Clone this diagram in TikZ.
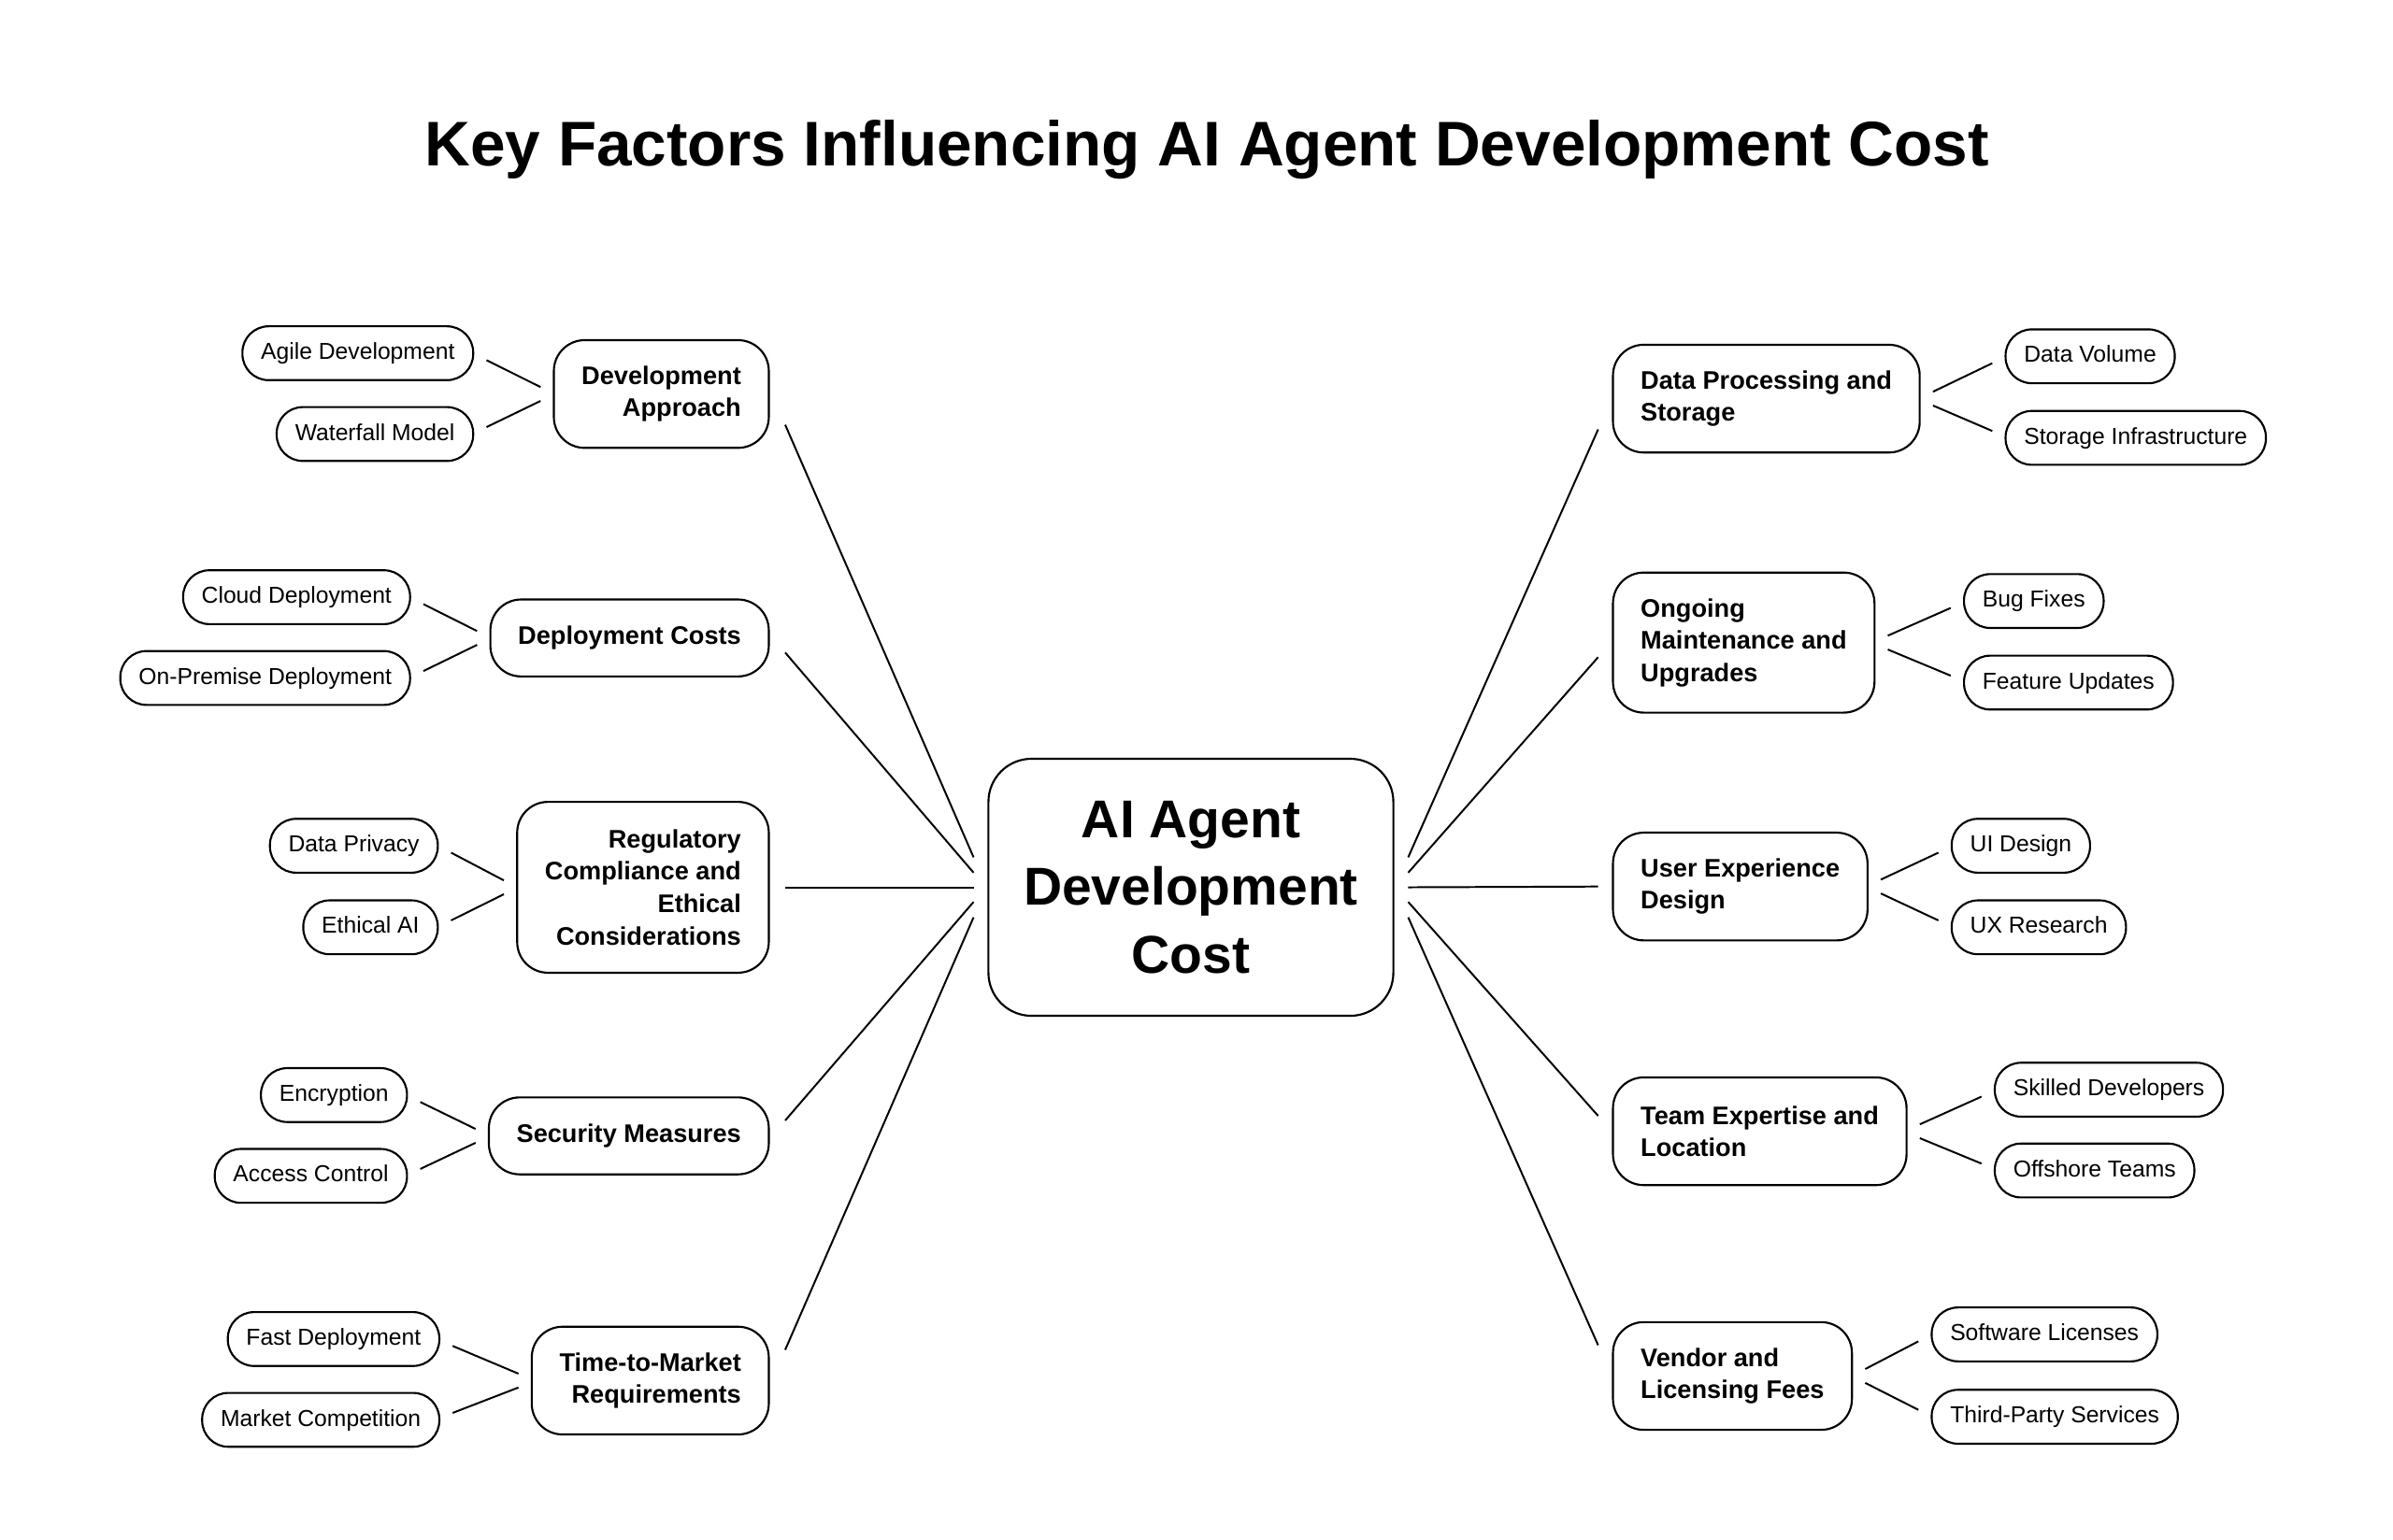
\documentclass[tikz,border=0pt]{standalone}
\usepackage{fontspec}
\setmainfont{Liberation Sans}
\begin{document}
\begin{tikzpicture}[x=1pt,y=-1pt,
  factor/.style={draw, line width=1.3pt, rounded corners=20pt, inner xsep=18pt, inner ysep=0pt,
    font=\fontsize{16.5}{21}\selectfont\bfseries},
  fl/.style={factor, anchor=east, align=right},
  fr/.style={factor, anchor=west, align=left},
  leaf/.style={draw, line width=1.3pt, rounded corners=17pt, inner xsep=12pt, inner ysep=0pt,
    minimum height=35pt, text height=11pt, text depth=3pt, font=\fontsize{15}{18}\selectfont},
  ll/.style={leaf, anchor=east},
  lr/.style={leaf, anchor=west},
  conn/.style={line width=1.2pt},
  h1/.style={minimum height=50pt}, h2/.style={minimum height=70pt},
  h3/.style={minimum height=91pt}, h4/.style={minimum height=111pt}]
\fill[white] (0,0) rectangle (1554.3,1000);
\useasboundingbox (0,0) rectangle (1554.3,1000);

\node[font=\fontsize{41}{49}\selectfont\bfseries] (title) at (784,97) {Key Factors Influencing AI Agent Development Cost};

\node[draw, line width=1.3pt, rounded corners=28pt, minimum width=263pt, minimum height=167pt, align=center,
  font=\fontsize{34.6}{44}\selectfont\bfseries] (ctr) at (773.5,576.5) {AI Agent\\Development\\Cost};

% left factors
\node[fl,h2] (devA) at (500,256) {Development\\Approach};
\node[fl,h1] (depC) at (500,414.5) {Deployment Costs};
\node[fl,h4] (reg) at (500,576.5) {Regulatory\\Compliance and\\Ethical\\Considerations};
\node[fl,h1] (sec) at (500,738) {Security Measures};
\node[fl,h2] (ttm) at (500,897) {Time-to-Market\\Requirements};

% right factors
\node[fr,h2] (dps) at (1047,259) {Data Processing and\\Storage};
\node[fr,h3] (oma) at (1047,417.5) {Ongoing\\Maintenance and\\Upgrades};
\node[fr,h2] (uxd) at (1047,576) {User Experience\\Design};
\node[fr,h2] (tel) at (1047,735) {Team Expertise and\\Location};
\node[fr,h2] (vlf) at (1047,894) {Vendor and\\Licensing Fees};

% left leaves
\node[ll] (agile) at (308,229.5) {Agile Development};
\node[ll] (water) at (308,282) {Waterfall Model};
\node[ll] (cloud) at (267,388) {Cloud Deployment};
\node[ll] (onprem) at (267,440.5) {On-Premise Deployment};
\node[ll] (priv) at (285,549.5) {Data Privacy};
\node[ll] (ethic) at (285,602.5) {Ethical AI};
\node[ll] (enc) at (265,711.5) {Encryption};
\node[ll] (acc) at (265,764) {Access Control};
\node[ll] (fast) at (286,870) {Fast Deployment};
\node[ll] (mkt) at (286,922.5) {Market Competition};

% right leaves
\node[lr] (vol) at (1302,231.5) {Data Volume};
\node[lr] (stor) at (1302,284.5) {Storage Infrastructure};
\node[lr] (bug) at (1275,390.5) {Bug Fixes};
\node[lr] (feat) at (1275,443.5) {Feature Updates};
\node[lr] (ui) at (1267,549.5) {UI Design};
\node[lr] (uxr) at (1267,602.5) {UX Research};
\node[lr] (skill) at (1295,708) {Skilled Developers};
\node[lr] (off) at (1295,760.5) {Offshore Teams};
\node[lr] (soft) at (1254,867) {Software Licenses};
\node[lr] (third) at (1254,920.5) {Third-Party Services};

% center connectors left
\draw[conn] ([xshift=10pt,yshift=-20pt]devA.east) -- ([xshift=-9pt,yshift=19.5pt]ctr.west);
\draw[conn] ([xshift=10pt,yshift=-9.5pt]depC.east) -- ([xshift=-9pt,yshift=9.5pt]ctr.west);
\draw[conn] ([xshift=10pt]reg.east) -- ([xshift=-9pt]ctr.west);
\draw[conn] ([xshift=10pt,yshift=10pt]sec.east) -- ([xshift=-9pt,yshift=-9.5pt]ctr.west);
\draw[conn] ([xshift=10pt,yshift=20pt]ttm.east) -- ([xshift=-9pt,yshift=-19.5pt]ctr.west);
% center connectors right
\draw[conn] ([xshift=9pt,yshift=19.5pt]ctr.east) -- ([xshift=-9pt,yshift=-20pt]dps.west);
\draw[conn] ([xshift=9pt,yshift=9.5pt]ctr.east) -- ([xshift=-9pt,yshift=-9.5pt]oma.west);
\draw[conn] ([xshift=9pt]ctr.east) -- ([xshift=-9pt]uxd.west);
\draw[conn] ([xshift=9pt,yshift=-9.5pt]ctr.east) -- ([xshift=-9pt,yshift=10pt]tel.west);
\draw[conn] ([xshift=9pt,yshift=-19.5pt]ctr.east) -- ([xshift=-9pt,yshift=20pt]vlf.west);

% leaf connectors left
\foreach \up/\dn/\f in {agile/water/devA, cloud/onprem/depC, priv/ethic/reg, enc/acc/sec, fast/mkt/ttm}{
  \draw[conn] ([xshift=8pt,yshift=-4.5pt]\up.east) -- ([xshift=-8pt,yshift=4.5pt]\f.west);
  \draw[conn] ([xshift=8pt,yshift=4.5pt]\dn.east) -- ([xshift=-8pt,yshift=-4.5pt]\f.west);
}
% leaf connectors right
\foreach \up/\dn/\f in {vol/stor/dps, bug/feat/oma, ui/uxr/uxd, skill/off/tel, soft/third/vlf}{
  \draw[conn] ([xshift=8pt,yshift=4.5pt]\f.east) -- ([xshift=-8pt,yshift=-4.5pt]\up.west);
  \draw[conn] ([xshift=8pt,yshift=-4.5pt]\f.east) -- ([xshift=-8pt,yshift=4.5pt]\dn.west);
}
\end{tikzpicture}
\end{document}
